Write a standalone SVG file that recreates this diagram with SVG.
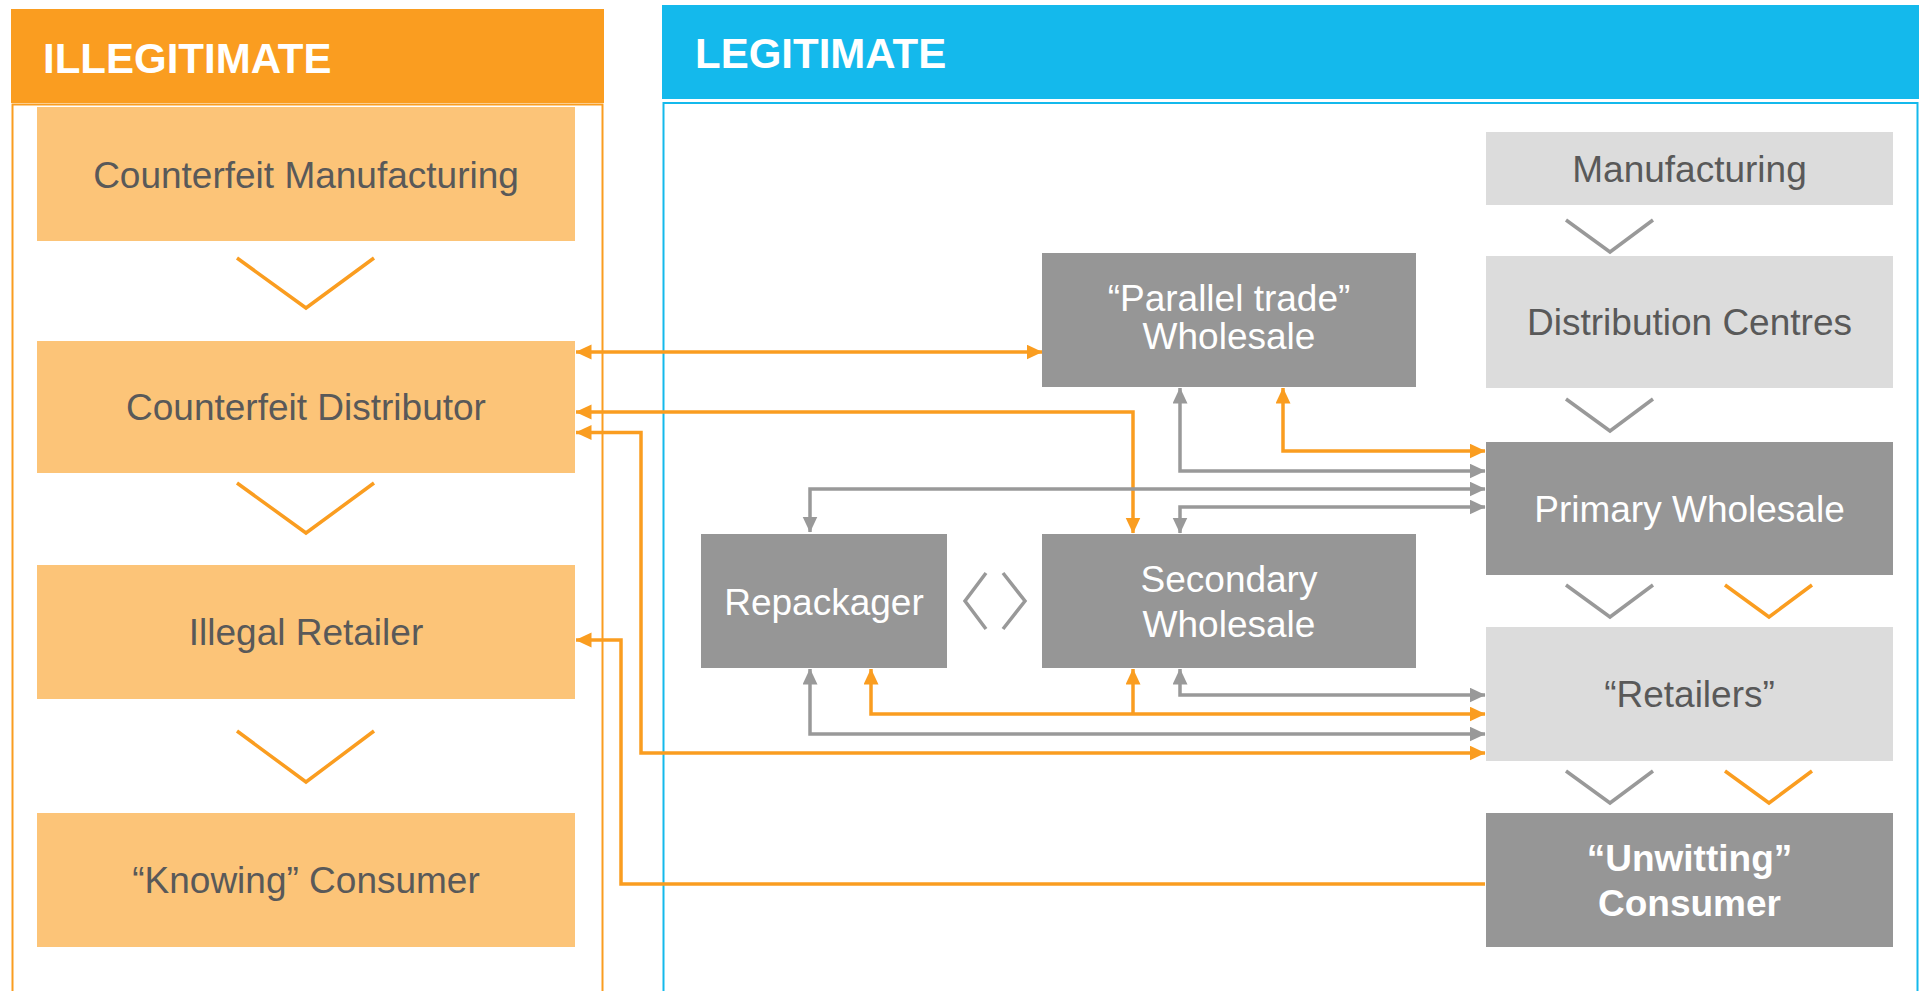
<svg xmlns="http://www.w3.org/2000/svg" width="1919" height="991" viewBox="0 0 1919 991">
<style>
  text { font-family: "Liberation Sans", Arial, sans-serif; font-size: 37px; text-anchor: middle; }
  .hdr { font-weight: bold; font-size: 42px; fill: #ffffff; text-anchor: start; }
  .lo { fill: #FCC478; }
  .dg { fill: #969696; }
  .lg { fill: #DCDCDC; }
  .td { fill: #595959; }
  .tw { fill: #ffffff; }
  .tb { fill: #ffffff; font-weight: bold; }
  .chev-o { fill: none; stroke: #FA9D20; stroke-width: 3.5; }
  .chev-g { fill: none; stroke: #999999; stroke-width: 3.5; }
  .co { fill: none; stroke: #FA9D20; stroke-width: 3.5; }
  .cg { fill: none; stroke: #999999; stroke-width: 3.5; }
  .co.a2 { marker-start: url(#ao); marker-end: url(#ao); }
  .co.as { marker-start: url(#ao); }
  .cg.a2 { marker-start: url(#ag); marker-end: url(#ag); }
</style>
<defs>
  <marker id="ao" markerUnits="userSpaceOnUse" markerWidth="16" markerHeight="16" viewBox="0 0 16 16" refX="15.5" refY="7.5" orient="auto-start-reverse">
    <path d="M0,0 L16,7.5 L0,15 z" fill="#FA9D20"/>
  </marker>
  <marker id="ag" markerUnits="userSpaceOnUse" markerWidth="16" markerHeight="16" viewBox="0 0 16 16" refX="15.5" refY="7.5" orient="auto-start-reverse">
    <path d="M0,0 L16,7.5 L0,15 z" fill="#999999"/>
  </marker>
</defs>
<rect width="1919" height="991" fill="#ffffff"/>

<g id="panel-illegitimate">
  <rect x="11" y="9" width="593" height="94" fill="#FA9D20"/>
  <rect x="12.5" y="104.5" width="590" height="900" fill="none" stroke="#FA9D20" stroke-width="2"/>
  <text class="hdr" x="43" y="73">ILLEGITIMATE</text>
</g>
<g id="panel-legitimate">
  <rect x="662" y="5" width="1257" height="94" fill="#14B9EC"/>
  <rect x="663.5" y="103" width="1254" height="900" fill="none" stroke="#14B9EC" stroke-width="2"/>
  <text class="hdr" x="695" y="68">LEGITIMATE</text>
</g>

<g id="chevrons">
  <path class="chev-o" d="M237,258 L306,308 L374,258"/>
  <path class="chev-o" d="M237,483 L306,533 L374,483"/>
  <path class="chev-o" d="M237,731 L306,782 L374,731"/>
  <path class="chev-g" d="M1566,220 L1610,252 L1653,220"/>
  <path class="chev-g" d="M1566,399 L1610,431 L1653,399"/>
  <path class="chev-g" d="M1566,585 L1610,617 L1653,585"/>
  <path class="chev-o" d="M1725,585 L1769,617 L1812,585"/>
  <path class="chev-g" d="M1566,771 L1610,803 L1653,771"/>
  <path class="chev-o" d="M1725,771 L1769,803 L1812,771"/>
  <path class="chev-g" d="M986,573 L965,601 L986,629"/>
  <path class="chev-g" d="M1003,573 L1025,601 L1003,629"/>
</g>

<g id="connectors">
  <path class="co a2" d="M576,352 H1042"/>
  <path class="co a2" d="M576,412 H1133 V533"/>
  <path class="co a2" d="M576,432.5 H641 V753 H1485"/>
  <path class="co as" d="M576,640 H621 V884 H1485"/>
  <path class="co a2" d="M1283,388 V451 H1485"/>
  <path class="co a2" d="M871,669 V714 H1485"/>
  <path class="co as" d="M1133,669 V714"/>
  <path class="cg a2" d="M1180,388 V471 H1485"/>
  <path class="cg a2" d="M810,532 V489 H1485"/>
  <path class="cg a2" d="M1180,533 V507 H1485"/>
  <path class="cg a2" d="M1180,669 V695 H1485"/>
  <path class="cg a2" d="M810,669 V734 H1485"/>
</g>

<g id="node-counterfeit-manufacturing">
  <rect class="lo" x="37" y="107" width="538" height="134"/>
  <text class="td" x="306" y="188">Counterfeit Manufacturing</text>
</g>
<g id="node-counterfeit-distributor">
  <rect class="lo" x="37" y="341" width="538" height="132"/>
  <text class="td" x="306" y="420">Counterfeit Distributor</text>
</g>
<g id="node-illegal-retailer">
  <rect class="lo" x="37" y="565" width="538" height="134"/>
  <text class="td" x="306" y="645">Illegal Retailer</text>
</g>
<g id="node-knowing-consumer">
  <rect class="lo" x="37" y="813" width="538" height="134"/>
  <text class="td" x="306" y="893">“Knowing” Consumer</text>
</g>

<g id="node-manufacturing">
  <rect class="lg" x="1486" y="132" width="407" height="73"/>
  <text class="td" x="1689.5" y="181.5">Manufacturing</text>
</g>
<g id="node-distribution-centres">
  <rect class="lg" x="1486" y="256" width="407" height="132"/>
  <text class="td" x="1689.5" y="335">Distribution Centres</text>
</g>
<g id="node-primary-wholesale">
  <rect class="dg" x="1486" y="442" width="407" height="133"/>
  <text class="tw" x="1689.5" y="521.5">Primary Wholesale</text>
</g>
<g id="node-retailers">
  <rect class="lg" x="1486" y="627" width="407" height="134"/>
  <text class="td" x="1689.5" y="707">“Retailers”</text>
</g>
<g id="node-unwitting-consumer">
  <rect class="dg" x="1486" y="813" width="407" height="134"/>
  <text class="tb" x="1689.5" y="871">“Unwitting”</text>
  <text class="tb" x="1689.5" y="916">Consumer</text>
</g>

<g id="node-parallel-trade">
  <rect class="dg" x="1042" y="253" width="374" height="134"/>
  <text class="tw" x="1229" y="311">“Parallel trade”</text>
  <text class="tw" x="1229" y="349">Wholesale</text>
</g>
<g id="node-repackager">
  <rect class="dg" x="701" y="534" width="246" height="134"/>
  <text class="tw" x="824" y="615">Repackager</text>
</g>
<g id="node-secondary-wholesale">
  <rect class="dg" x="1042" y="534" width="374" height="134"/>
  <text class="tw" x="1229" y="592">Secondary</text>
  <text class="tw" x="1229" y="637">Wholesale</text>
</g>
</svg>
